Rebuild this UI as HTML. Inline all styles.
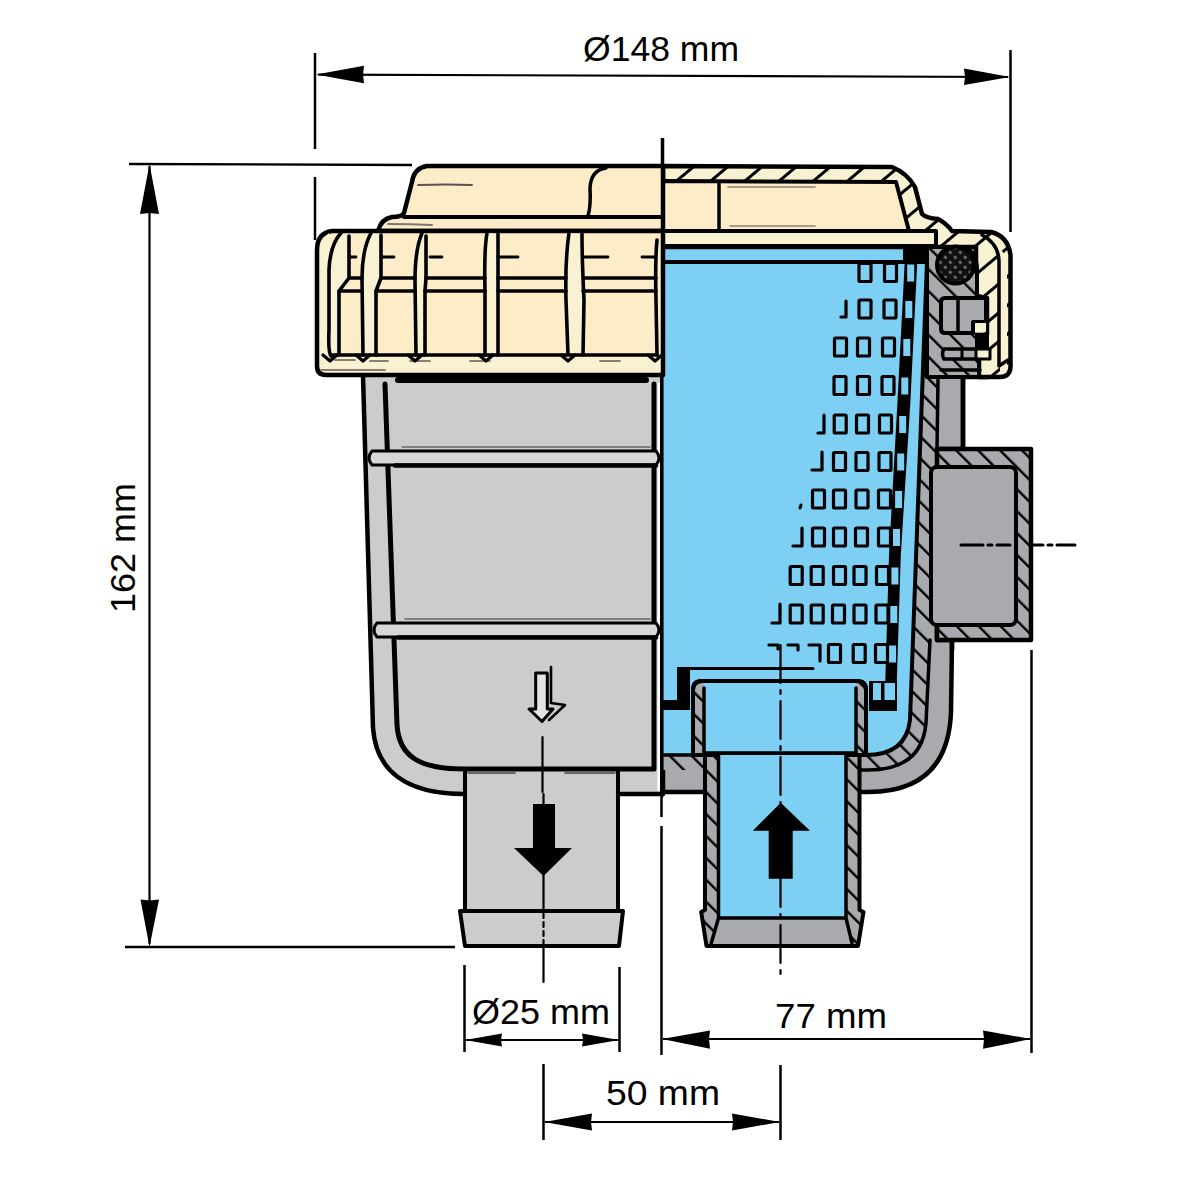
<!DOCTYPE html>
<html><head><meta charset="utf-8"><title>Strainer</title>
<style>html,body{margin:0;padding:0;background:#fff;width:1200px;height:1200px;overflow:hidden}svg{display:block}</style></head>
<body><svg width="1200" height="1200" viewBox="0 0 1200 1200" font-family="Liberation Sans, sans-serif">
<defs>
<pattern id="hg" patternUnits="userSpaceOnUse" width="15.5" height="16" patternTransform="rotate(-45)">
<rect width="15.5" height="16" fill="#A9AAAE"/><rect x="0" y="0" width="2.4" height="16" fill="#000"/>
</pattern>
<pattern id="hc" patternUnits="userSpaceOnUse" width="22" height="22" patternTransform="rotate(50)">
<rect width="22" height="22" fill="#F9F2D2"/><rect x="0" y="0" width="3.0" height="22" fill="#000"/>
</pattern>
<pattern id="dots" patternUnits="userSpaceOnUse" width="7" height="7" patternTransform="rotate(45)">
<rect width="7" height="7" fill="#111"/><circle cx="3.5" cy="3.5" r="1.6" fill="#777"/>
</pattern>
</defs>
<rect width="1200" height="1200" fill="#fff"/>

<g id="dims" stroke="#000" fill="none">
<path d="M315,53 V149 M315,177 V240 M1010.5,50 V232" stroke-width="2.5"/>
<path d="M318,74.6 L1008,77" stroke-width="2.2"/>
<path d="M129,164 L412,165 M125,947 L455,947" stroke-width="2.3"/>
<path d="M149.5,166 V944" stroke-width="2.2"/>
<path d="M464.5,965 V1052 M619.5,967 V1052" stroke-width="2.5"/>
<path d="M466,1040 H618" stroke-width="2"/>
<path d="M661.5,797 V817 M661.5,826 V1055 M1031.5,650 V1053" stroke-width="2.5"/>
<path d="M663,1039 H1030" stroke-width="2"/>
<path d="M543.5,1064 V1140 M780.5,1065 V1140" stroke-width="2.5"/>
<path d="M662.5,138 V168" stroke-width="3.5"/>
<path d="M545,1122 H779" stroke-width="2"/>
</g>
<g id="arrows" fill="#000">
<path d="M316,74.6 L364,65.8 L363,74.6 L364,83.3 Z"/>
<path d="M1010,77 L964,68.5 L965,77 L964,85 Z"/>
<path d="M149.5,164 L159,214 L149.5,213 L140,214 Z"/>
<path d="M149.5,947 L159,899.5 L149.5,900.5 L140.5,899.5 Z"/>
<path d="M465,1040 L502,1033.5 L501,1040 L502,1046.5 Z"/>
<path d="M619,1040 L582,1033.5 L583,1040 L582,1046.5 Z"/>
<path d="M662,1039 L710,1030.4 L709,1039 L710,1048.7 Z"/>
<path d="M1031,1039 L983,1030.4 L984,1039 L983,1048.7 Z"/>
<path d="M544,1122 L592,1113.5 L591,1122 L592,1130.5 Z"/>
<path d="M780,1122 L732,1113.5 L733,1122 L732,1130.5 Z"/>
</g>
<g id="texts" fill="#000" font-size="35">
<text x="583" y="61" textLength="156" lengthAdjust="spacingAndGlyphs">Ø148 mm</text>
<text x="472" y="1024" textLength="138" lengthAdjust="spacingAndGlyphs">Ø25 mm</text>
<text x="775" y="1028" textLength="112" lengthAdjust="spacingAndGlyphs">77 mm</text>
<text x="606" y="1105" textLength="114" lengthAdjust="spacingAndGlyphs">50 mm</text>
<text transform="translate(135,613) rotate(-90)" x="0" y="0" textLength="130" lengthAdjust="spacingAndGlyphs">162 mm</text>
</g>

<g id="drawing" stroke="#000" stroke-linejoin="round" stroke-linecap="round">
<g id="outlet">
<path d="M465,785 L618,785 L618,911 L465,911 Z" fill="#CBCCCE" stroke-width="4"/>
<path d="M460,911 L623,911 L619,946 L465,946 Z" fill="#CBCCCE" stroke-width="4"/>

</g>
<g id="bodyL">
<path d="M363,375 L373,728 C376,770 405,794 464,794 L663,794 L663,375 Z" fill="#CBCCCE" stroke="none"/>
<path d="M363,375 L373,728 C376,770 405,794 464,794 M618,794 L663,794" fill="none" stroke-width="4.5"/>
<path d="M385,384 L397,725 C399,757 420,769 465,769 L654,769 L654,384" fill="none" stroke-width="5"/>
<path d="M465,770 V794 M618,770 V794" stroke-width="4"/>
<path d="M468,773 H515 M565,773 H615" stroke="#444" stroke-width="1.6"/>
<path d="M658.8,384 V790" stroke="#fff" stroke-width="2.6"/>
<path d="M372,451 L656,451 Q662,458 656,465 L372,465 Q366,458 372,451 Z" fill="#D6D7D9" stroke-width="3"/>
<path d="M395,465.5 H656" stroke-width="4.5"/>
<path d="M402,447 H650" stroke="#666" stroke-width="1.5"/>
<path d="M377,623 L656,623 Q662,630 656,637 L377,637 Q371,630 377,623 Z" fill="#D6D7D9" stroke-width="3"/>
<path d="M398,637.5 H656" stroke-width="4.5"/>
<path d="M405,619 H650" stroke="#666" stroke-width="1.5"/>
<path d="M398,380 H646" stroke-width="6"/>
<path d="M551,667 V703 L565,705 L549,720" fill="none" stroke-width="2.6"/>
<path d="M535.7,673 H547.3 V709 H553 L542,721.5 L529,709 H535.7 Z" fill="#E4E4E6" stroke-width="3"/>
<path d="M542.5,737 V792" stroke-width="2.2"/>
<path d="M543.5,794 V912 M543.5,946 V982" stroke-width="2.2"/>
<path d="M543.5,913 V946" stroke-width="2.2" stroke-dasharray="5 4"/>
<path d="M533,804 H555 V848 H572 L543.5,876 L514,848 H533 Z" fill="#000" stroke="none"/>
</g>
<g id="bodyR">
<path d="M663,245 L987,245 L987,377 L963,377 L963,449 L937,449 L937,640 L952,640 L951,712 Q948,792 868,792 L663,792 Z" fill="#A9AAAE" stroke-width="4.5"/>
<path d="M663,245 L938,245 L938,380 L937,449 L930,640 L926,723 Q922,770 868,770 L663,770 Z" fill="url(#hg)" stroke="none"/>
<path d="M938,380 L937,449 M930,640 L926,723 Q922,770 868,770 L705,770" fill="none" stroke-width="3.5"/>
<path d="M937,449 L1031,449 L1031,640 L937,640 Z" fill="url(#hg)" stroke-width="4.5"/>
<rect x="931" y="467" width="85" height="158" rx="6" fill="#A9AAAE" stroke-width="4"/>
<path d="M963,377 V449 M952,640 V650" fill="none" stroke-width="4.5"/>
<path d="M961,545 H983 M988,545 H992 M997,545 H1010 M1032,545 H1043 M1048,545 H1052 M1057,545 H1075" stroke-width="3"/>
<path d="M663,245 L927.5,245 L910,720 Q906,755 866,755 L663,755 Z" fill="#7ECFF4" stroke="none"/>
<path d="M927.5,247 L910,720 Q906,755 866,755" fill="none" stroke-width="4"/>
<path d="M663,755 L705,755" stroke-width="3.5"/>
</g>
<g id="inlet">
<path d="M693,755 L693,690 Q693,681 702,681 L857,681 Q866,681 866,690 L866,755 Z" fill="url(#hg)" stroke-width="4"/>
<path d="M704,683 L704,753 L856,753 L856,683 Z" fill="#7ECFF4" stroke="none"/>
<path d="M704,688 V753 H856 V688" fill="none" stroke-width="3.5"/>
<path d="M693,755 L693,690 Q693,681 702,681 L857,681 Q866,681 866,690 L866,755" fill="none" stroke-width="4"/>
<path d="M705,755 L859.5,755 L859.5,910 L863.5,912 L858,946 L706.5,946 L701.2,912 L705,910 Z" fill="url(#hg)" stroke-width="4"/>
<path d="M718.5,755 L846,755 L846,918 L718.5,918 Z" fill="#7ECFF4" stroke="none"/>
<path d="M718.5,918 L846,918 L852,944 L711,944 Z" fill="#A9AAAE" stroke="none"/>
<path d="M718.5,755 V918 L711,944 M846,755 V918 L852,943 M718.5,918 H846" fill="none" stroke-width="3.5"/>
<path d="M780.7,802.8 L810,830.8 L792.7,830.8 L792.7,878.8 L768.7,878.8 L768.7,830.8 L752.7,830.8 Z" fill="#000" stroke="none"/>
<path d="M780.5,645 V980" stroke-width="2.2" stroke-dasharray="38 7 4 7"/>
</g>
<path d="M661.8,247 V796" stroke="#000" stroke-width="3.6"/>
<g id="basket">
<path d="M663,262 H906" stroke-width="4"/>
<path d="M905.5,247 L918,247 L910.3,403 L900.8,555 L896,707 L884.5,707 L889,555 L897.4,403 Z" fill="#000" stroke="none"/>
<path d="M903,247 L937,247 L937,264 L903,264 Z" fill="#000" stroke="none"/>
<path d="M869,681 L897,681 L897,711 L869,711 Z" fill="#000" stroke="none"/>
<path d="M679,668.5 H813" stroke-width="3"/>
<path d="M677,667 L690,667 L690,710 L663,710 L663,700 L677,700 Z" fill="#000" stroke="none"/>
<rect x="859.0" y="263.5" width="12" height="18" rx="1" fill="#7ECFF4" stroke-width="3.2"/>
<rect x="884.5" y="263.5" width="12" height="18" rx="1" fill="#7ECFF4" stroke-width="3.2"/>
<rect x="907.2" y="264.5" width="7" height="17" fill="#7ECFF4" stroke="none"/>
<rect x="859.0" y="300.0" width="12" height="18" rx="1" fill="#7ECFF4" stroke-width="3.2"/>
<rect x="884.0" y="300.0" width="12" height="18" rx="1" fill="#7ECFF4" stroke-width="3.2"/>
<rect x="905.3" y="301.0" width="7" height="17" fill="#7ECFF4" stroke="none"/>
<rect x="834.5" y="338.0" width="12" height="18" rx="1" fill="#7ECFF4" stroke-width="3.2"/>
<rect x="857.5" y="338.0" width="12" height="18" rx="1" fill="#7ECFF4" stroke-width="3.2"/>
<rect x="882.5" y="338.0" width="12" height="18" rx="1" fill="#7ECFF4" stroke-width="3.2"/>
<rect x="903.3" y="339.0" width="7" height="17" fill="#7ECFF4" stroke="none"/>
<rect x="834.0" y="376.5" width="12" height="18" rx="1" fill="#7ECFF4" stroke-width="3.2"/>
<rect x="857.5" y="376.5" width="12" height="18" rx="1" fill="#7ECFF4" stroke-width="3.2"/>
<rect x="882.0" y="376.5" width="12" height="18" rx="1" fill="#7ECFF4" stroke-width="3.2"/>
<rect x="901.3" y="377.5" width="7" height="17" fill="#7ECFF4" stroke="none"/>
<rect x="834.2" y="415.0" width="12" height="18" rx="1" fill="#7ECFF4" stroke-width="3.2"/>
<rect x="856.5" y="415.0" width="12" height="18" rx="1" fill="#7ECFF4" stroke-width="3.2"/>
<rect x="879.5" y="415.0" width="12" height="18" rx="1" fill="#7ECFF4" stroke-width="3.2"/>
<rect x="899.2" y="416.0" width="7" height="17" fill="#7ECFF4" stroke="none"/>
<rect x="833.5" y="452.5" width="12" height="18" rx="1" fill="#7ECFF4" stroke-width="3.2"/>
<rect x="856.0" y="452.5" width="12" height="18" rx="1" fill="#7ECFF4" stroke-width="3.2"/>
<rect x="879.0" y="452.5" width="12" height="18" rx="1" fill="#7ECFF4" stroke-width="3.2"/>
<rect x="897.2" y="453.5" width="7" height="17" fill="#7ECFF4" stroke="none"/>
<rect x="812.5" y="490.0" width="12" height="18" rx="1" fill="#7ECFF4" stroke-width="3.2"/>
<rect x="833.5" y="490.0" width="12" height="18" rx="1" fill="#7ECFF4" stroke-width="3.2"/>
<rect x="856.0" y="490.0" width="12" height="18" rx="1" fill="#7ECFF4" stroke-width="3.2"/>
<rect x="878.5" y="490.0" width="12" height="18" rx="1" fill="#7ECFF4" stroke-width="3.2"/>
<rect x="895.1" y="491.0" width="7" height="17" fill="#7ECFF4" stroke="none"/>
<rect x="812.5" y="528.0" width="12" height="18" rx="1" fill="#7ECFF4" stroke-width="3.2"/>
<rect x="833.5" y="528.0" width="12" height="18" rx="1" fill="#7ECFF4" stroke-width="3.2"/>
<rect x="855.5" y="528.0" width="12" height="18" rx="1" fill="#7ECFF4" stroke-width="3.2"/>
<rect x="878.5" y="528.0" width="12" height="18" rx="1" fill="#7ECFF4" stroke-width="3.2"/>
<rect x="893.0" y="529.0" width="7" height="17" fill="#7ECFF4" stroke="none"/>
<rect x="790.2" y="566.5" width="12" height="18" rx="1" fill="#7ECFF4" stroke-width="3.2"/>
<rect x="811.2" y="566.5" width="12" height="18" rx="1" fill="#7ECFF4" stroke-width="3.2"/>
<rect x="833.5" y="566.5" width="12" height="18" rx="1" fill="#7ECFF4" stroke-width="3.2"/>
<rect x="854.0" y="566.5" width="12" height="18" rx="1" fill="#7ECFF4" stroke-width="3.2"/>
<rect x="876.5" y="566.5" width="12" height="18" rx="1" fill="#7ECFF4" stroke-width="3.2"/>
<rect x="891.4" y="567.5" width="7" height="17" fill="#7ECFF4" stroke="none"/>
<rect x="790.2" y="605.0" width="12" height="18" rx="1" fill="#7ECFF4" stroke-width="3.2"/>
<rect x="811.2" y="605.0" width="12" height="18" rx="1" fill="#7ECFF4" stroke-width="3.2"/>
<rect x="832.5" y="605.0" width="12" height="18" rx="1" fill="#7ECFF4" stroke-width="3.2"/>
<rect x="854.0" y="605.0" width="12" height="18" rx="1" fill="#7ECFF4" stroke-width="3.2"/>
<rect x="876.0" y="605.0" width="12" height="18" rx="1" fill="#7ECFF4" stroke-width="3.2"/>
<rect x="890.3" y="606.0" width="7" height="17" fill="#7ECFF4" stroke="none"/>
<rect x="828.5" y="644.5" width="12" height="18" rx="1" fill="#7ECFF4" stroke-width="3.2"/>
<rect x="853.2" y="644.5" width="12" height="18" rx="1" fill="#7ECFF4" stroke-width="3.2"/>
<rect x="875.5" y="644.5" width="12" height="18" rx="1" fill="#7ECFF4" stroke-width="3.2"/>
<rect x="889.1" y="645.5" width="7" height="17" fill="#7ECFF4" stroke="none"/>
<rect x="888.0" y="683.0" width="7" height="17" fill="#7ECFF4" stroke="none"/>
<path d="M846,301 V317 H841" fill="none" stroke-width="3.2"/>
<path d="M824,415 V433 H818" fill="none" stroke-width="3.2"/>
<path d="M822,452 V470 H812" fill="none" stroke-width="3.2"/>
<path d="M800,508 L801,505" fill="none" stroke-width="3"/>
<path d="M802,528 V546 H793" fill="none" stroke-width="3.2"/>
<path d="M780,604 V623 H772" fill="none" stroke-width="3.2"/>
<path d="M769,645 H778 V649 M788,645 H798 V650 M809,645 H820 V661" fill="none" stroke-width="3.2"/>
<rect x="873" y="683" width="8" height="17" fill="#7ECFF4" stroke="none"/><rect x="884.5" y="683" width="7" height="17" fill="#7ECFF4" stroke="none"/>
</g>
<g id="cap">
<!-- right section outer (hatched) -->
<path d="M663,166 L892,167 Q907,173 915,187 L922,214 Q926,218 938,219 Q946,223 952,231 L991,232 Q1008,236 1010.5,255 L1010.5,367 Q1010,377 1000,377 L979,377 L979,334 L987,334 L987,298 L976,296 L976,247 L663,247 Z" fill="url(#hc)" stroke-width="4.5"/>
<path d="M996,248 Q1006,251 1007,262 L1007,366 Q1005,372 1000,372 L1000,262 Q1000,252 996,248 Z" fill="#F9F2D2" stroke="none"/>
<path d="M982,235 Q999,244 999,262 L999,366 L1008,360" fill="none" stroke-width="3.5"/>
<!-- cap interior cream -->
<path d="M663,181 L896,182 L909,231 L663,231 Z" fill="#FCEDC8" stroke-width="4"/>
<path d="M719,182 V231" stroke-width="3.5"/>
<path d="M728,187 H815 M730,226 H815" stroke="#8a7f70" stroke-width="1.6"/>
<path d="M663,231 L936,231 L936,246 L663,246 Z" fill="#F9F2D2" stroke-width="4"/>
<!-- flange -->
<path d="M927,247 L962,247 Q976,250 977,268 L977,296 L987,298 L987,334 L979,336 L979,377 L927,377 Z" fill="url(#hg)" stroke-width="4"/>
<circle cx="955.5" cy="265" r="18.5" fill="url(#dots)" stroke-width="4"/>
<path d="M945,298 H986 V322 H973 V333 H945 Q941,333 941,329 V302 Q941,298 945,298 Z" fill="#A9AAAE" stroke-width="4"/>
<path d="M958,299 V332" stroke-width="3.5"/>
<path d="M975,333 H989 V348 H975 Z" fill="#000" stroke="none"/>
<path d="M975,323 H986 V332 H975 Z" fill="#F9F2D2" stroke="none"/>
<path d="M944,349 H976 Q979,354 976,359 H944 Q941,354 944,349 Z" fill="#A9AAAE" stroke-width="3.5"/>
<path d="M962,350 V358" stroke-width="3"/>
<path d="M976,349 H990 V359 H976 Z" fill="#F9F2D2" stroke-width="3"/>
<path d="M941,370 H980" stroke-width="3.5"/>
<!-- left exterior: dome -->
<path d="M663,166 L427,166 Q414,168 412,182 L404,213 Q402,217 392,217 Q381,219 378,231 L663,231 Z" fill="#FCEDC8" stroke-width="4.5"/>
<path d="M378,231 L663,231" stroke-width="4"/>
<path d="M404,217 H663" stroke-width="4"/>
<path d="M606,168 Q591,170 590,188 Q591,206 588,216" fill="none" stroke-width="3.5"/>
<path d="M418,185 Q445,184 472,185" stroke="#555" stroke-width="1.8"/>
<path d="M388,224 Q410,224 432,225" stroke="#777" stroke-width="1.8"/>
<!-- ring -->
<path d="M663,231 L332,231 Q317,233 317,250 L317,366 Q317,375 326,375 L663,375 Z" fill="#FCEDC8" stroke-width="4.5"/>
<path d="M322,358 Q330,356 660,356 L660,372 L325,372 Z" fill="#F9F2D2" stroke="none"/>
<path d="M321,370 H385 M335,360 H355 M370,361 H388 M410,361 H430 M470,361 H490 M600,361 H620" stroke="#8a8070" stroke-width="1.8"/>
</g>
<g id="ribs" fill="none" stroke-width="3.6">
<path d="M341,233 Q330,245 329,270 L329,330 Q328,352 331,356 L339,355 L339,291 L349,278 L349,236 Z" fill="#F9F2D2" stroke="none"/>
<path d="M371,233 Q362,250 362,278 L363,355 L376,355 L376,291 L381,278 L381,235 Z" fill="#F9F2D2" stroke="none"/>
<path d="M422,233 Q415,250 415,280 L416,355 L425,355 L425,291 L426,278 L426,236 Z" fill="#F9F2D2" stroke="none"/>
<path d="M487,233 Q484,250 485,290 L485,355 L498,355 L498,234 Z" fill="#F9F2D2" stroke="none"/>
<path d="M569,233 Q565,260 566,300 L568,355 L583,355 L584,300 Q582,260 582,234 Z" fill="#F9F2D2" stroke="none"/>
<path d="M329,233 Q320,240 320,260 L320,360 L329,356 Z" fill="#F9F2D2" stroke="none"/>
<path d="M341,233 Q330,245 329,270 L329,330 Q328,352 331,356"/><path d="M349,236 L349,278 L339,291 L339,355"/>
<path d="M371,233 Q362,250 362,278 L363,355"/><path d="M381,235 L381,278 L376,291 L376,355"/>
<path d="M422,233 Q415,250 415,280 L416,355"/><path d="M426,236 V278 L425,291 V355"/>
<path d="M487,233 Q484,250 485,290 L485,355"/><path d="M498,234 V355"/>
<path d="M569,233 Q565,260 566,300 L568,355"/><path d="M582,234 Q582,260 584,300 L583,355"/>
<path d="M657,240 Q655,260 656,300 L657,355" />
<path d="M349,278 H362 M381,278 H415 M426,278 H485 M498,278 H566 M584,278 H656" />
<path d="M339,291 H362 M376,291 H415 M425,291 H485 M498,291 H566 M583,291 H656" />
<path d="M331,355 H657" />
<path d="M323,355 L330,361 L337,355 M356,355 L363,361 L370,355 M408,355 L415,361 L422,355 M479,355 L486,361 L493,355 M561,355 L568,361 L575,355 M648,355 L655,361 L662,355" stroke-width="3.2"/>
<path d="M349,257 H356 M381,257 H394 M430,257 H442 M498,257 H518 M584,257 H608 M642,257 H654" stroke-width="2.8"/>
</g>
</g>
</svg></body></html>
